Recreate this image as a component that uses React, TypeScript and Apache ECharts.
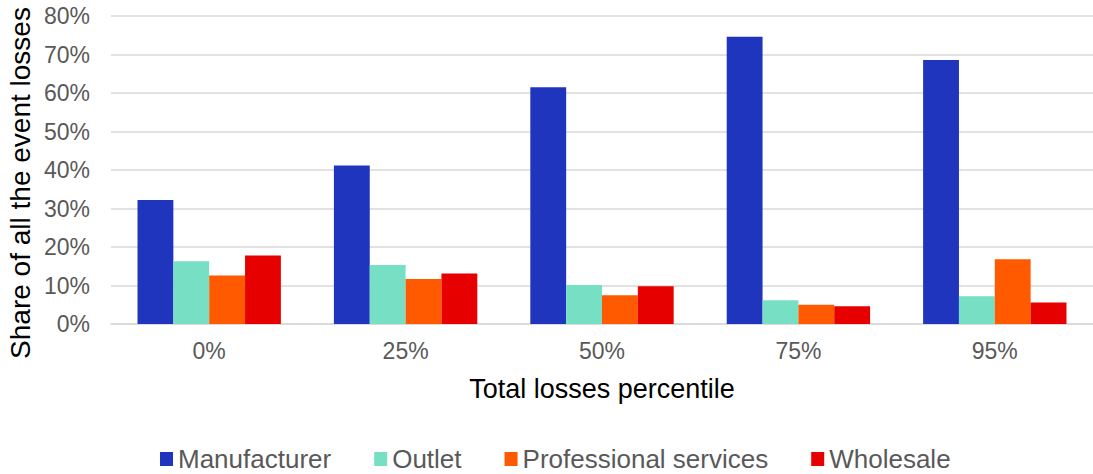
import React, { useEffect, useRef } from "react";
import * as echarts from "echarts";

const categories = ["0%", "25%", "50%", "75%", "95%"];
const manufacturer = [32.2, 41.2, 61.5, 74.6, 68.6];
const outlet = [16.3, 15.3, 10.1, 6.2, 7.2];
const professional = [12.6, 11.7, 7.5, 5.0, 16.8];
const wholesale = [17.8, 13.1, 9.8, 4.6, 5.6];
const seriesNames = ["Manufacturer", "Outlet", "Professional services", "Wholesale"];
const colors = ["#1f35be", "#77dfc3", "#ff5a00", "#e60000"];
const yAxisTitle = "Share of all the event losses";
const xAxisTitle = "Total losses percentile";

export default function App() {
  const ref = useRef<HTMLDivElement>(null);
  useEffect(() => {
    document.body.style.margin = "0";
    const chart = echarts.init(ref.current!, null, { renderer: "svg" });
    const font = "'Liberation Sans', Arial, sans-serif";
    const textColor = "#595959";
    const data = [manufacturer, outlet, professional, wholesale];
    chart.setOption({
      animation: false,
      textStyle: { fontFamily: font },
      grid: { left: 111, right: -7, top: 16, bottom: 150, containLabel: false },
      legend: {
        data: seriesNames,
        left: 160,
        top: 445,
        padding: 0,
        itemWidth: 13,
        itemHeight: 14,
        itemGap: 43,
        icon: "rect",
        textStyle: { color: textColor, fontSize: 26, fontFamily: font, lineHeight: 28 },
      },
      graphic: [
        {
          type: "text",
          x: 20,
          y: 183,
          rotation: Math.PI / 2,
          style: {
            text: yAxisTitle,
            fontSize: 28,
            fontFamily: font,
            fill: "#000",
            align: "center",
            verticalAlign: "middle",
          },
        },
      ],
      xAxis: {
        type: "category",
        data: categories,
        name: xAxisTitle,
        nameLocation: "middle",
        nameGap: 51,
        nameTextStyle: { color: "#000", fontSize: 27, fontFamily: font },
        axisLine: { lineStyle: { color: "#d9d9d9", width: 1.5 } },
        axisTick: { show: false },
        axisLabel: { color: textColor, fontSize: 23, margin: 15, fontFamily: font },
      },
      yAxis: {
        type: "value",
        min: 0,
        max: 80,
        interval: 10,
        axisLine: { show: false },
        axisTick: { show: false },
        splitLine: { lineStyle: { color: "#d9d9d9", width: 1.5 } },
        axisLabel: {
          color: textColor,
          fontSize: 23,
          margin: 21,
          fontFamily: font,
          formatter: (v: number) => v + "%",
        },
      },
      series: seriesNames.map((name, i) => ({
        name,
        type: "bar",
        data: data[i],
        barGap: "0%",
        barCategoryGap: "27%",
        itemStyle: { color: colors[i] },
      })),
    });
    return () => chart.dispose();
  }, []);
  return <div ref={ref} style={{ width: 1093, height: 474 }} />;
}
